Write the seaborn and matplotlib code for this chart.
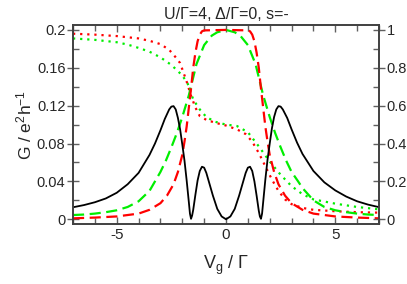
import numpy as np
import pandas as pd
import matplotlib
matplotlib.use('Agg')
import matplotlib.pyplot as plt
import seaborn as sns
from matplotlib.ticker import MultipleLocator, FormatStrFormatter

# black solid: conductance G
x_black = [-7, -6.5, -6, -5.5, -5, -4.5, -4, -3.5, -3.25, -3, -2.8, -2.6, -2.5, -2.4, -2.3,
           -2.2, -2.1, -2.0, -1.9, -1.8, -1.7, -1.65, -1.6, -1.55, -1.5, -1.4, -1.3, -1.2,
           -1.1, -1.0, -0.9, -0.8, -0.6, -0.4, -0.2, 0,
           0.2, 0.4, 0.6, 0.8, 0.9, 1.0, 1.1, 1.2, 1.3, 1.4, 1.5, 1.55, 1.6, 1.65, 1.7,
           1.8, 1.9, 2.0, 2.1, 2.2, 2.3, 2.4, 2.5, 2.6, 2.8, 3.0, 3.25, 3.5, 4.0, 4.5,
           5.0, 5.5, 6.0, 6.5, 7.0]
g_black = [0.0127, 0.015, 0.018, 0.022, 0.028, 0.037, 0.049, 0.068, 0.080, 0.094, 0.106,
           0.116, 0.119, 0.1195, 0.116, 0.107, 0.095, 0.079, 0.062, 0.041, 0.018, 0.006,
           0.0005, 0.004, 0.010, 0.026, 0.041, 0.051, 0.0555, 0.0545, 0.049, 0.041, 0.025,
           0.011, 0.003, 0.0,
           0.003, 0.011, 0.025, 0.041, 0.049, 0.0545, 0.0555, 0.051, 0.040, 0.025, 0.009,
           0.003, 0.0005, 0.006, 0.018, 0.042, 0.063, 0.080, 0.096, 0.108, 0.116, 0.1195,
           0.119, 0.116, 0.107, 0.095, 0.081, 0.069, 0.051, 0.039, 0.0305, 0.024, 0.019,
           0.0155, 0.0128]

# red dashed
x_red_dash = [-7, -6, -5, -4, -3.5, -3, -2.7, -2.4, -2.2, -2.0, -1.9, -1.8, -1.7, -1.6,
              -1.5, -1.4, -1.3, -1.2, -1.1, -1.0, 0, 1.0, 1.1, 1.2, 1.3, 1.4, 1.5, 1.6,
              1.7, 1.8, 1.9, 2.0, 2.2, 2.4, 2.7, 3.0, 3.5, 4, 5, 6, 7]
g_red_dash = [0.001, 0.0018, 0.003, 0.006, 0.010, 0.017, 0.025, 0.037, 0.050, 0.068,
              0.082, 0.098, 0.118, 0.138, 0.160, 0.176, 0.188, 0.195, 0.1985, 0.1995, 0.2,
              0.1995, 0.1985, 0.195, 0.188, 0.176, 0.160, 0.138, 0.118, 0.098, 0.082,
              0.068, 0.050, 0.037, 0.025, 0.017, 0.010, 0.006, 0.003, 0.0018, 0.001]

# green dashed
x_green_dash = [-7, -6.5, -6, -5.5, -5, -4.5, -4, -3.5, -3.3, -3, -2.75, -2.5, -2.25, -2.0,
                -1.7, -1.35, -1.0, -0.65, -0.4, 0, 0.4, 0.65, 1.0, 1.35, 1.7, 2.0, 2.25,
                2.5, 2.75, 3.0, 3.3, 3.5, 4.0, 4.5, 5.0, 5.5, 6.0, 6.5, 7]
g_green_dash = [0.0045, 0.005, 0.006, 0.0075, 0.0095, 0.013, 0.019, 0.030, 0.038, 0.050,
                0.062, 0.076, 0.091, 0.108, 0.131, 0.164, 0.184, 0.194, 0.1975, 0.2,
                0.1975, 0.194, 0.184, 0.164, 0.131, 0.108, 0.091, 0.076, 0.062, 0.050,
                0.040, 0.033, 0.020, 0.013, 0.0095, 0.0075, 0.006, 0.005, 0.0045]

# red dotted
x_red_dot = [-7, -6, -5, -4, -3.5, -3, -2.6, -2.3, -2.1, -1.9, -1.75, -1.64, -1.4, -1.2,
             -0.9, -0.5, 0, 0.5, 0.9, 1.2, 1.5, 1.8, 2.1, 2.4, 2.7, 3.0, 3.5, 4.0, 5.0,
             6.0, 7.0]
g_red_dot = [0.196, 0.195, 0.1935, 0.191, 0.1885, 0.185, 0.179, 0.171, 0.165, 0.152,
             0.142, 0.133, 0.118, 0.109, 0.105, 0.102, 0.099, 0.095, 0.090, 0.082, 0.070,
             0.056, 0.042, 0.030, 0.021, 0.016, 0.012, 0.010, 0.0085, 0.0075, 0.007]

# green dotted
x_green_dot = [-7, -6, -5, -4.5, -4, -3.5, -3, -2.5, -2, -1.75, -1.5, -1.2, -0.9, -0.5,
               0, 0.5, 1.0, 1.3, 1.5, 2.0, 2.5, 3.0, 3.5, 4.0, 5.0, 6.0, 7.0]
g_green_dot = [0.191, 0.1895, 0.187, 0.1845, 0.181, 0.177, 0.171, 0.163, 0.152, 0.143,
               0.1265, 0.116, 0.108, 0.103, 0.100, 0.0985, 0.092, 0.083, 0.077, 0.061,
               0.047, 0.035, 0.0265, 0.021, 0.0165, 0.013, 0.0105]

sns.set_style('ticks')
plt.rcParams['font.family'] = ['Liberation Sans', 'DejaVu Sans']
plt.rcParams['mathtext.fontset'] = 'custom'
plt.rcParams['mathtext.rm'] = 'Liberation Sans'
plt.rcParams['mathtext.it'] = 'Liberation Sans'

fig = plt.figure(figsize=(4.07, 2.84), dpi=100)
ax = fig.add_axes([0.1794, 0.2102, 0.7518, 0.7028])

RED = '#ff0000'
GREEN = '#00ee00'

sns.lineplot(x=x_green_dot, y=g_green_dot, ax=ax, color=GREEN, lw=1.6,
             linestyle=(0, (1, 2.2)), sort=False, estimator=None)
sns.lineplot(x=x_red_dot, y=g_red_dot, ax=ax, color=RED, lw=1.6,
             linestyle=(0, (1, 2.2)), sort=False, estimator=None)
sns.lineplot(x=x_green_dash, y=g_green_dash, ax=ax, color=GREEN, lw=1.6,
             linestyle=(0, (5, 2.5)), sort=False, estimator=None)
sns.lineplot(x=x_red_dash, y=g_red_dash, ax=ax, color=RED, lw=1.6,
             linestyle=(0, (5, 2.5)), sort=False, estimator=None)
sns.lineplot(x=x_black, y=g_black, ax=ax, color='black', lw=1.3,
             sort=False, estimator=None)

ax.set_xlim(-7, 7)
ax.set_ylim(-0.0053, 0.2055)
ax.xaxis.set_major_locator(MultipleLocator(5))
ax.xaxis.set_minor_locator(MultipleLocator(1))
ax.yaxis.set_major_locator(MultipleLocator(0.04))
ax.yaxis.set_minor_locator(MultipleLocator(0.02))
ax.xaxis.set_major_formatter(FormatStrFormatter('%g'))
ax.yaxis.set_major_formatter(FormatStrFormatter('%g'))

axr = ax.twinx()
axr.set_ylim(-0.0053 * 5, 0.2055 * 5)
axr.yaxis.set_major_locator(MultipleLocator(0.2))
axr.yaxis.set_minor_locator(MultipleLocator(0.1))
axr.yaxis.set_major_formatter(FormatStrFormatter('%g'))

spine_c = '#404040'
for a in (ax, axr):
    for s in a.spines.values():
        s.set_color(spine_c)
        s.set_linewidth(1.2)
    a.tick_params(which='major', direction='inout', length=9, width=1.0, color='#606060',
                  labelsize=10.5, pad=1)
    a.tick_params(which='minor', direction='in', length=4, width=1.0, color='#606060')
ax.tick_params(axis='x', which='both', top=True, direction='in')
ax.tick_params(axis='x', which='major', length=5)
ax.tick_params(axis='x', labelsize=11, pad=3)
ax.tick_params(axis='y', which='both', right=False)

ax.set_xlabel(r'$V_g$ / Γ', fontsize=13, labelpad=8)
ax.set_ylabel(r'G / e$^2$h$^{-1}$', fontsize=12.5, labelpad=2)
ax.set_title('U/Γ=4, Δ/Γ=0, s=-', fontsize=11.5, pad=4)

fig.savefig('out.png', dpi=100)
